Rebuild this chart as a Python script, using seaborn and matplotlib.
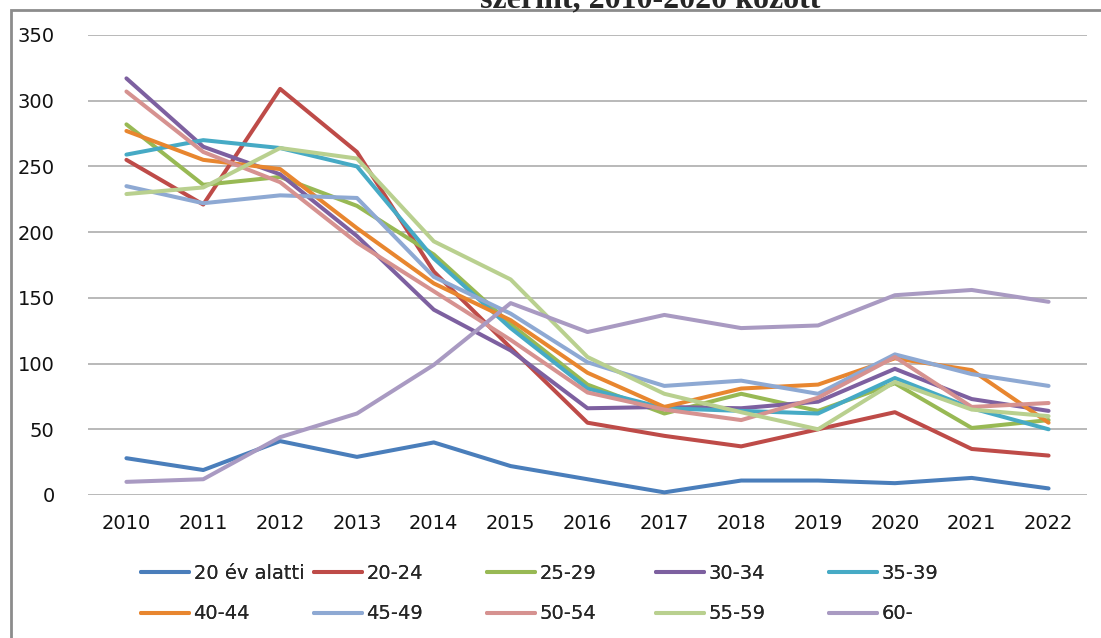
import pandas as pd
import seaborn as sns
import matplotlib.pyplot as plt
from matplotlib.patches import Rectangle

years = list(range(2010, 2023))
groups = ['20 év alatti', '20-24', '25-29', '30-34', '35-39',
          '40-44', '45-49', '50-54', '55-59', '60-']

v_u20 = [28, 19, 41, 29, 40, 22, 12, 2, 11, 11, 9, 13, 5]
v_20_24 = [255, 221, 309, 261, 170, 112, 55, 45, 37, 50, 63, 35, 30]
v_25_29 = [282, 236, 242, 220, 183, 130, 84, 62, 77, 64, 85, 51, 57]
v_30_34 = [317, 265, 244, 197, 141, 110, 66, 67, 66, 71, 96, 73, 64]
v_35_39 = [259, 270, 264, 250, 180, 127, 81, 66, 64, 62, 89, 66, 50]
v_40_44 = [277, 255, 248, 203, 161, 133, 93, 67, 81, 84, 104, 95, 55]
v_45_49 = [235, 222, 228, 226, 166, 138, 101, 83, 87, 77, 107, 92, 83]
v_50_54 = [307, 261, 238, 192, 155, 118, 78, 65, 57, 74, 105, 67, 70]
v_55_59 = [229, 234, 264, 256, 193, 164, 105, 77, 63, 50, 86, 65, 60]
v_60 = [10, 12, 44, 62, 99, 146, 124, 137, 127, 129, 152, 156, 147]

series = [v_u20, v_20_24, v_25_29, v_30_34, v_35_39,
          v_40_44, v_45_49, v_50_54, v_55_59, v_60]

pal = ['#4A7EBB', '#BE4B48', '#98B954', '#7D60A0', '#46AAC5',
       '#E8862F', '#8EA9D3', '#D69290', '#B9D08F', '#A99AC2']

rows = []
for g, vals in zip(groups, series):
    for y, v in zip(years, vals):
        rows.append({'year': y, 'value': v, 'group': g})
df = pd.DataFrame(rows)

sns.set_style('white')
plt.rcParams['font.family'] = ['DejaVu Sans']

fig = plt.figure(figsize=(11.01, 6.38), dpi=100)
ax = fig.add_axes([88/1101, 1 - 495/638, (1087 - 88)/1101, (495 - 35)/638])

sns.lineplot(data=df, x='year', y='value', hue='group', hue_order=groups,
             palette=pal, linewidth=2.9, ax=ax, sort=False)

ax.set_xlim(2009.5, 2022.5)
ax.set_ylim(0, 350)
ax.set_xticks(years)
ax.set_yticks(range(0, 351, 50))
ax.tick_params(axis='both', length=0, labelsize=14, colors='#111111')
ax.tick_params(axis='y', pad=24)
ax.tick_params(axis='x', pad=14)
ax.set_xlabel('')
ax.set_ylabel('')
ax.yaxis.grid(True, color='#A6A6A6', linewidth=1.1)
ax.set_axisbelow(True)
for s in ax.spines.values():
    s.set_visible(False)

leg = ax.get_legend()
handles = leg.legend_handles
labels = [t.get_text() for t in leg.texts]
leg.remove()

# five single-column legends so the columns are evenly spaced
col_x = [141, 314, 487, 656, 829]
for i, x in enumerate(col_x):
    lg = fig.legend([handles[i], handles[i + 5]], [labels[i], labels[i + 5]],
                    loc='upper left', bbox_to_anchor=(x/1101, 1 - 564/638),
                    frameon=False, fontsize=14, handlelength=2.45,
                    handletextpad=0.25, labelspacing=1.1, borderpad=0,
                    borderaxespad=0)
    for h in lg.legend_handles:
        h.set_linewidth(2.9)
    fig.add_artist(lg)

fig.add_artist(Rectangle((11/1101, -0.2), 1.2, 1.2 - 10/638,
                         transform=fig.transFigure, fill=False,
                         edgecolor='#8C8C8C', linewidth=2))

fig.text(650/1101, 1 - 7/638, 'szerint, 2010-2020 között', ha='center',
         va='baseline', fontsize=23, fontweight='bold',
         family=['Liberation Serif', 'DejaVu Serif'])

plt.savefig('out.png', dpi=100)
